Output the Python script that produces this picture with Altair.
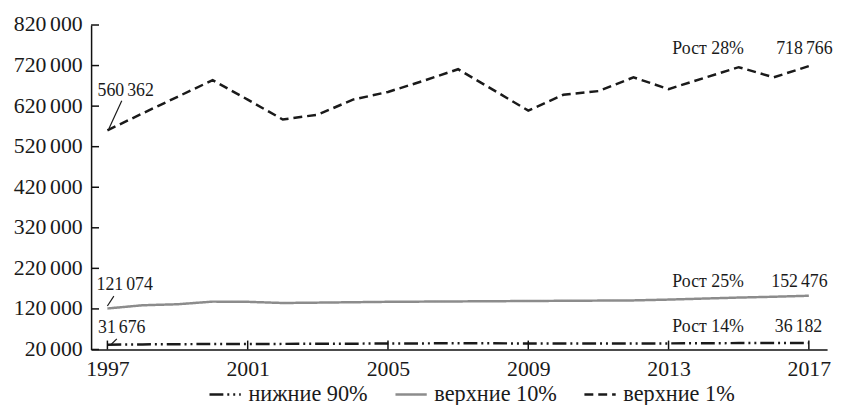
import altair as alt
import pandas as pd

years = list(range(1997, 2018))
bottom90 = [31676, 32500, 33000, 33500, 33500, 33800, 34000, 34300, 34800, 35000, 35300,
            35200, 34800, 34500, 34600, 34800, 35000, 35300, 35800, 36000, 36182]
top10 = [121074, 129000, 131500, 138000, 137500, 134600, 135500, 136500, 137500, 138000, 138500,
         139000, 139500, 140000, 140500, 141000, 143000, 145500, 148000, 150000, 152476]
top1 = [560362, 602000, 643000, 684000, 636000, 587000, 599000, 636000, 655000, 682000, 711000,
        660000, 609000, 648000, 657000, 691000, 662000, 689000, 716000, 691000, 718766]

series_names = ["нижние 90%", "верхние 10%", "верхние 1%"]
series_colors = ["#1a1a1a", "#8c8c8c", "#1a1a1a"]
series_dash = [[14, 4, 2, 4, 2, 4], [1, 0], [9, 5]]

x_ticks = [1997, 2001, 2005, 2009, 2013, 2017]
y_ticks = [20000, 120000, 220000, 320000, 420000, 520000, 620000, 720000, 820000]

SERIF = "Liberation Serif"
TXT = "#1a1a1a"
SP = "\u2006"

rows = []
for name, vals in zip(series_names, [bottom90, top10, top1]):
    for yr, v in zip(years, vals):
        rows.append({"year": yr, "value": v, "group": name})
df = pd.DataFrame(rows)

xs = alt.Scale(domain=[1996.535, 2017.52], nice=False, zero=False)
ys = alt.Scale(domain=[20000, 820000], nice=False, zero=False)

leg = alt.Legend(title=None, orient="none", legendX=118, legendY=356,
                 direction="horizontal", symbolType="stroke",
                 symbolSize=1000, symbolStrokeWidth=2.5,
                 labelFont=SERIF, labelFontSize=22.5, labelColor=TXT,
                 labelOffset=6, columnPadding=22, padding=0)

lines = alt.Chart(df).mark_line(strokeWidth=2.5, strokeCap="butt").encode(
    x=alt.X("year:Q", scale=xs,
            axis=alt.Axis(values=x_ticks, format="d", ticks=False, grid=False, title=None,
                          labelFont=SERIF, labelFontSize=22, labelColor=TXT, labelPadding=9,
                          domainColor="#111", domainWidth=1.5, labelFlush=False)),
    y=alt.Y("value:Q", scale=ys,
            axis=alt.Axis(values=y_ticks, ticks=False, grid=False, title=None,
                          labelExpr="replace(format(datum.value, ',d'), ',', '" + SP + "')",
                          labelFont=SERIF, labelFontSize=22, labelColor=TXT, labelPadding=9,
                          labelOffset=-1,
                          domainColor="#111", domainWidth=1.5, labelFlush=False)),
    color=alt.Color("group:N", scale=alt.Scale(domain=series_names, range=series_colors),
                    legend=leg),
    strokeDash=alt.StrokeDash("group:N", scale=alt.Scale(domain=series_names, range=series_dash),
                              legend=leg),
)

ytick_df = pd.DataFrame({"value": y_ticks})
yticks = alt.Chart(ytick_df).mark_rule(color="#111", strokeWidth=1.5).encode(
    y=alt.Y("value:Q", scale=ys), x=alt.value(0), x2=alt.value(8))

xtick_df = pd.DataFrame({"year": x_ticks})
xticks = alt.Chart(xtick_df).mark_rule(color="#111", strokeWidth=1.5).encode(
    x=alt.X("year:Q", scale=xs), y=alt.value(328), y2=alt.value(319))

# annotations: (label, year, value, dx, dy)
annotations = [
    ("560" + SP + "362", 1997, top1[0], 18.5, -40),
    ("121" + SP + "074", 1997, top10[0], 17.5, -23.5),
    ("31" + SP + "676", 1997, bottom90[0], 14.5, -17),
    ("718" + SP + "766", 2017, top1[-1], -4.5, -17.5),
    ("152" + SP + "476", 2017, top10[-1], -9.5, -13.5),
    ("36" + SP + "182", 2017, bottom90[-1], -10.5, -16),
    ("Рост 28%", 2013, top1[-1], 40, -17.5),
    ("Рост 25%", 2013, top10[-1], 40, -13.5),
    ("Рост 14%", 2013, bottom90[-1], 40, -16),
]
layers = [lines, yticks, xticks]
for label, yr, val, dx, dy in annotations:
    d = pd.DataFrame({"year": [yr], "value": [val], "label": [label]})
    layers.append(alt.Chart(d).mark_text(font=SERIF, fontSize=18, color=TXT, dx=dx, dy=dy,
                                         align="center", baseline="middle").encode(
        x=alt.X("year:Q", scale=xs), y=alt.Y("value:Q", scale=ys), text="label:N"))

# leader lines: (year, value, x1off, y1off, x2off, y2off)
leaders = [
    (1997, top1[0], 1.5, -1.5, 14.5, -30),
    (1997, top10[0], 0, -2.5, 6.5, -12.5),
    (1997, bottom90[0], 3.5, 0, 9.5, -6),
]
for yr, val, x1, y1, x2, y2 in leaders:
    d = pd.DataFrame({"year": [yr], "value": [val]})
    layers.append(alt.Chart(d).mark_rule(color=TXT, strokeWidth=1.2, xOffset=x1, yOffset=y1,
                                         x2Offset=x2, y2Offset=y2).encode(
        x=alt.X("year:Q", scale=xs), y=alt.Y("value:Q", scale=ys),
        x2="year:Q", y2="value:Q"))

chart = alt.layer(*layers).properties(
    width=744, height=328,
    autosize=alt.AutoSizeParams(type="none"),
    padding={"left": 84, "top": 15, "right": 8, "bottom": 60},
    background="white",
).configure_view(stroke=None)

chart.save("out.html", embed_options={"renderer": "svg", "actions": False})
